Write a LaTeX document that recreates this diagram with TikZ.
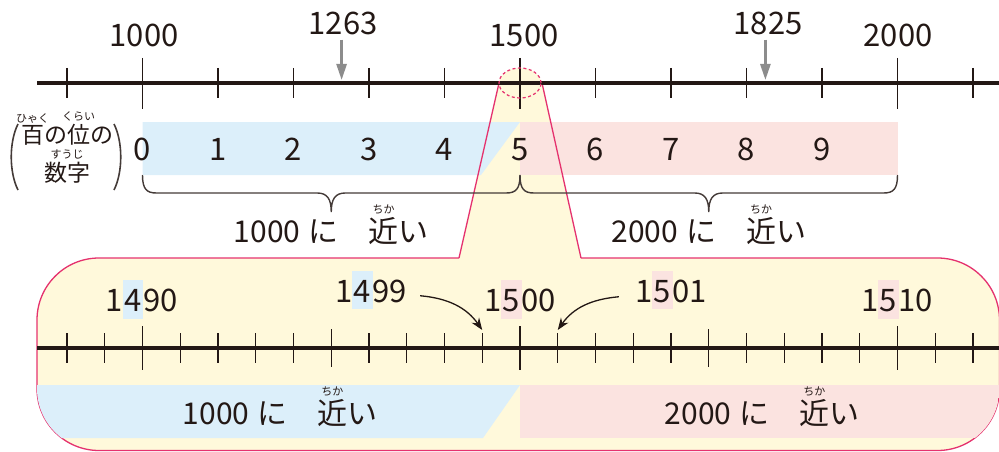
\documentclass[tikz,border=0pt]{standalone}
\usepackage{fontspec}
\usepackage{tikz}
\usetikzlibrary{arrows.meta, positioning, calc}

\newfontfamily\jp{Noto Sans CJK JP}

\definecolor{sumi}{RGB}{35,24,21}
\definecolor{aka}{RGB}{229,50,110}
\definecolor{kiiro}{RGB}{255,249,219}
\definecolor{ao}{RGB}{220,239,250}
\definecolor{momo}{RGB}{251,227,224}
\definecolor{haiiro}{RGB}{140,140,140}

% furigana over a word
\newcommand{\furigana}[2]{%
  \leavevmode\setbox0\hbox{#1}%
  \rlap{\raisebox{\dimexpr\ht0+3.5pt\relax}[0pt][0pt]{\makebox[\wd0]{\fontsize{11}{11}\selectfont #2}}}#1}
% coloured hundreds digit
\newcommand{\keta}[2]{{\setlength{\fboxsep}{1.5pt}\colorbox{#1}{\rule[-5.5pt]{0pt}{35.5pt}#2}}}

\begin{document}
\begin{tikzpicture}[
    x=1pt, y=-1pt,
    every node/.style={inner sep=0pt, text=sumi},
    >=Stealth
]
    \tikzset{
        senbun/.style={line width=4.3pt, color=sumi},
        memori/.style={line width=1.4pt, color=sumi},
        waku/.style={line width=1.3pt, color=aka},
        suji/.style={font=\jp\fontsize{31}{31}\selectfont, anchor=base},
        chikai/.style={font=\jp\fontsize{30}{30}\selectfont, anchor=base},
        hidari/.style={font=\jp\fontsize{23}{23}\selectfont},
        nami/.style={line width=1.4pt, color=sumi!85},
        yajirushi/.style={line width=2.6pt, color=haiiro, -{Triangle[length=16pt, width=10pt]}},
        kuro/.style={line width=1.3pt, color=sumi, -{Stealth[length=12pt, width=9pt]}}
    }
    \useasboundingbox (0,0) rectangle (999,452);

    % Fondo
    \draw[waku, fill=kiiro, rounded corners=62pt] (37,258) rectangle (999.5,450.5);
    \fill[kiiro] (499,83) -- (542,83) -- (581,259.5) -- (459,259.5) -- cycle;
    \fill[kiiro] (520,83) ellipse [x radius=21pt, y radius=15pt];

    % Bandas
    \fill[ao] (142.5,122) -- (520,122) -- (481,175) -- (142.5,175) -- cycle;
    \fill[momo] (520,122) rectangle (897.5,175);
    \begin{scope}
        \clip[rounded corners=62pt] (37,258) rectangle (999.5,450.5);
        \fill[ao] (30,385) -- (520,385) -- (483,438) -- (30,438) -- cycle;
        \fill[momo] (520,385) rectangle (1005,438);
    \end{scope}
    \draw[waku] (499,83) -- (459,258);
    \draw[waku] (542,83) -- (581,258);

    % Rectas
    \draw[senbun] (37,83) -- (999,83);
    \foreach \k in {0,...,12}
        \draw[memori] (67+75.5*\k,68) -- (67+75.5*\k,98);
    \foreach \xx in {142.5, 520, 897.5}
        \draw[memori] (\xx,58) -- (\xx,109);

    \draw[senbun] (37,348) -- (999,348);
    \foreach \k in {0,...,24}
        \draw[memori] (67+37.75*\k,333) -- (67+37.75*\k,363);
    \foreach \xx in {331.25, 708.75}
        \draw[memori] (\xx,329) -- (\xx,367);
    \foreach \xx in {142.5, 520, 897.5}
        \draw[memori] (\xx,326) -- (\xx,370);

    \draw[aka, line width=1.2pt, dash pattern=on 3pt off 2.5pt] (520,83) ellipse [x radius=21pt, y radius=15pt];

    % Numeros de arriba
    \node[suji] (n1000) at (144,47) {1000};
    \node[suji] (n1263) at (343,35) {1263};
    \node[suji] (n1500) at (524,47) {1500};
    \node[suji] (n1825) at (768,35) {1825};
    \node[suji] (n2000) at (898,47) {2000};

    \coordinate (p1263) at (341.6,80);
    \coordinate (p1825) at (765.4,80);
    \draw[yajirushi, shorten <=4pt] (p1263 |- n1263.south) -- (p1263);
    \draw[yajirushi, shorten <=4pt] (p1825 |- n1825.south) -- (p1825);

    % Cifra de las centenas
    \node[hidari] (hyaku) at (67,135) {\furigana{百}{ひゃく}の\furigana{位}{くらい}の};
    \node[hidari] (suuji) at (67,173) {\furigana{数字}{すうじ}};
    \draw[nami, line width=1.6pt] (18,124) .. controls (9,142) and (9,172) .. (18,190);
    \draw[nami, line width=1.6pt] (114,124) .. controls (123,142) and (123,172) .. (114,190);

    \foreach \d in {0,...,9}
        \node[suji] (d\d) at (142.5+75.5*\d,160) {\d};

    % Llaves
    \foreach \a/\m/\b in {142.5/331.25/520, 520/708.75/897.5}
        \draw[nami] (\a,175) .. controls (\a,189) and (\a+4,193) .. (\a+14,193)
            -- (\m-14,193) .. controls (\m-4,193) and (\m,199) .. (\m,212)
            .. controls (\m,199) and (\m+4,193) .. (\m+14,193)
            -- (\b-14,193) .. controls (\b-4,193) and (\b,189) .. (\b,175);

    \node[chikai] (cerca1000) at (331.25,242) {1000\hspace{8pt}に　\furigana{近}{ちか}い};
    \node[chikai] (cerca2000) at (708.75,242) {2000\hspace{8pt}に　\furigana{近}{ちか}い};

    % Recta ampliada
    \node[suji] (n1490) at (141.5,311.5) {1\keta{ao}{4}90};
    \node[suji] (n1499) at (371,302) {1\keta{ao}{4}99};
    \node[suji] (m1500) at (520,311.5) {1\keta{momo}{5}00};
    \node[suji] (n1501) at (671,302) {1\keta{momo}{5}01};
    \node[suji] (n1510) at (897,311.5) {1\keta{momo}{5}10};

    \coordinate (t1499) at (482.25,330);
    \coordinate (t1501) at (557.75,330);
    \draw[kuro] ($(n1499.east)+(13,6)$) to[out=-5, in=125] (t1499);
    \draw[kuro] ($(n1501.west)+(-16,7)$) to[out=185, in=55] (t1501);

    \node[chikai] (abajo1000) at (280,424) {1000\hspace{8pt}に　\furigana{近}{ちか}い};
    \node[chikai] (abajo2000) at (762,424) {2000\hspace{8pt}に　\furigana{近}{ちか}い};
\end{tikzpicture}
\end{document}
